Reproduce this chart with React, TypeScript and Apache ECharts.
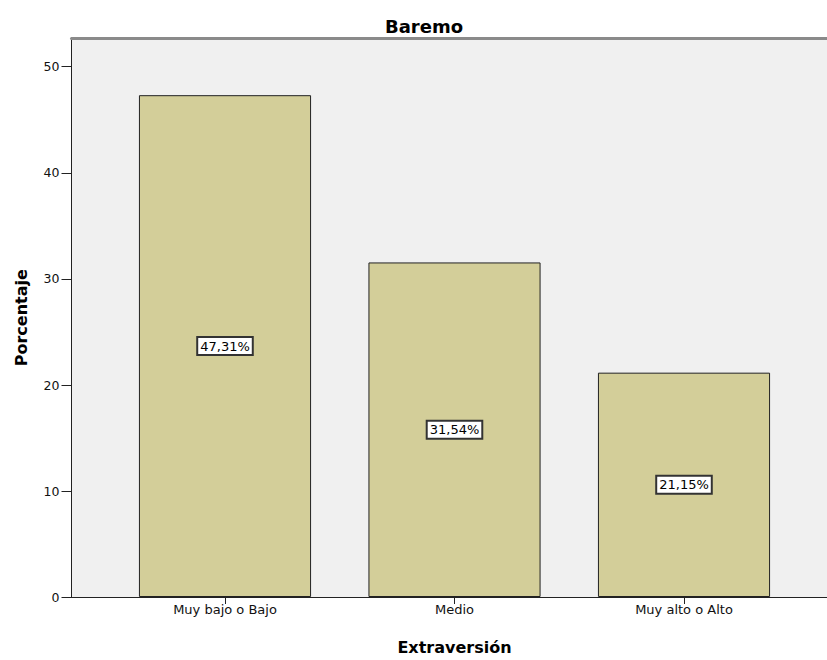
import React, { useEffect, useRef } from "react";
import * as echarts from "echarts";

const categories = ["Muy bajo o Bajo", "Medio", "Muy alto o Alto"];
const values = [47.31, 31.54, 21.15];
const yTicks = [0, 10, 20, 30, 40, 50];
const yMax = 52.7;

const FONT = "'DejaVu Sans', sans-serif";

export default function App() {
  const ref = useRef<HTMLDivElement>(null);
  useEffect(() => {
    if (!ref.current) return;
    const chart = echarts.init(ref.current, null, { renderer: "svg" });
    const option: any = {
      animation: false,
      backgroundColor: "#ffffff",
      title: {
        text: "Baremo",
        left: 419,
        top: 12,
        textAlign: "center",
        textStyle: { fontFamily: FONT, fontSize: 18, fontWeight: "bold", color: "#000" },
      },
      grid: [
        { left: 71.5, right: 0, top: 38, bottom: 62.5, show: true, backgroundColor: "#f0f0f0", borderWidth: 0 },
        { left: 110.25, right: 28.25, top: 38, bottom: 62.5 },
      ],
      xAxis: [
        {
          type: "value", gridIndex: 0, min: 0, max: 1, position: "bottom",
          axisLine: { show: true, lineStyle: { color: "#222", width: 1 } },
          axisTick: { show: false }, axisLabel: { show: false }, splitLine: { show: false },
        },
        {
          type: "value", gridIndex: 0, min: 0, max: 1, position: "top",
          axisLine: { show: true, lineStyle: { color: "#8a8a8a", width: 3 } },
          axisTick: { show: false }, axisLabel: { show: false }, splitLine: { show: false },
        },
        {
          type: "category", gridIndex: 1, data: categories, position: "bottom",
          axisLine: { show: false },
          axisTick: { show: true, alignWithLabel: true, length: 7, lineStyle: { color: "#222" } },
          axisLabel: { fontFamily: FONT, fontSize: 13, color: "#111", margin: 6 },
          name: "Extraversión",
          nameLocation: "middle",
          nameGap: 42,
          nameTextStyle: { fontFamily: FONT, fontSize: 16, fontWeight: "bold", color: "#000" },
        },
      ],
      yAxis: [
        {
          type: "value", gridIndex: 0, min: 0, max: yMax, interval: 10,
          axisLine: { show: true, lineStyle: { color: "#222", width: 1 } },
          axisTick: { show: true, length: 10, lineStyle: { color: "#222" }, customValues: yTicks },
          axisLabel: {
            fontFamily: FONT, fontSize: 12.5, color: "#111", margin: 12,
            customValues: yTicks,
          },
          splitLine: { show: false },
          name: "Porcentaje",
          nameLocation: "middle",
          nameGap: 42,
          nameRotate: 90,
          nameTextStyle: { fontFamily: FONT, fontSize: 16, fontWeight: "bold", color: "#000" },
        },
        {
          type: "value", gridIndex: 1, min: 0, max: yMax, show: false,
        },
      ],
      series: [
        {
          type: "bar",
          xAxisIndex: 2,
          yAxisIndex: 1,
          data: values,
          barWidth: "75%",
          itemStyle: { color: "#d3ce99", borderColor: "#222", borderWidth: 1 },
          label: {
            show: true,
            position: "inside",
            formatter: (p: any) => p.value.toFixed(2).replace(".", ",") + "%",
            fontFamily: FONT,
            fontSize: 13,
            color: "#000",
            backgroundColor: "#ffffff",
            borderColor: "#333",
            borderWidth: 2,
            padding: [2, 2, 1, 2],
          },
        },
      ],
    };
    chart.setOption(option);
    return () => chart.dispose();
  }, []);
  return <div ref={ref} style={{ width: 827, height: 660, position: "absolute", left: 0, top: 0 }} />;
}
